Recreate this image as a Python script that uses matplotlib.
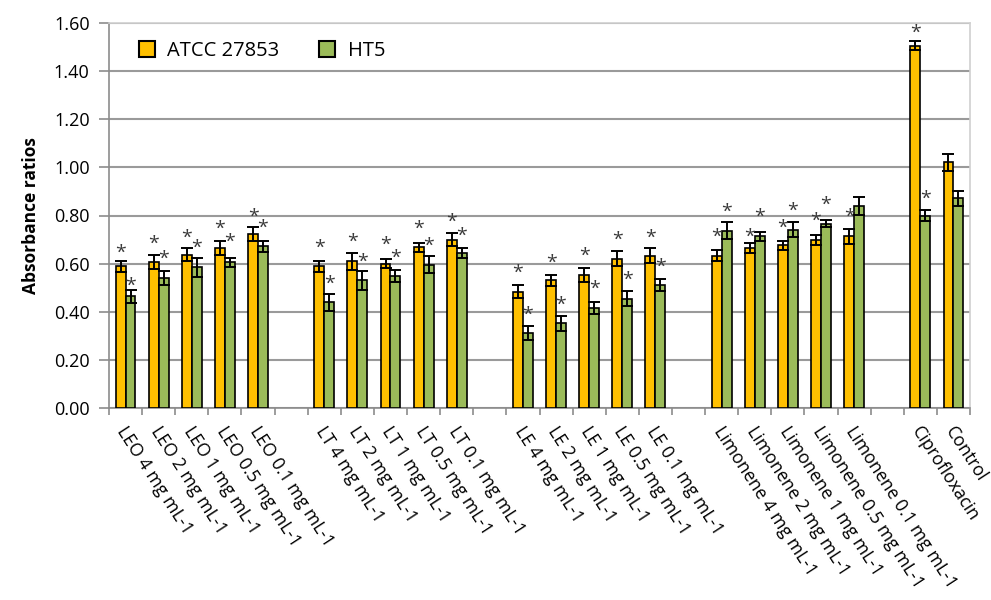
import numpy as np
import matplotlib
matplotlib.use("Agg")
import matplotlib.pyplot as plt
from matplotlib.patches import Patch
from matplotlib.transforms import ScaledTranslation

plt.rcParams['font.family'] = ['Open Sans', 'DejaVu Sans']

categories = ["LEO 4 mg mL-1", "LEO 2 mg mL-1", "LEO 1 mg mL-1", "LEO 0.5 mg mL-1", "LEO 0.1 mg mL-1", "",
              "LT 4 mg mL-1", "LT 2 mg mL-1", "LT 1 mg mL-1", "LT 0.5 mg mL-1", "LT 0.1 mg mL-1", "",
              "LE 4 mg mL-1", "LE 2 mg mL-1", "LE 1 mg mL-1", "LE 0.5 mg mL-1", "LE 0.1 mg mL-1", "",
              "Limonene 4 mg mL-1", "Limonene 2 mg mL-1", "Limonene 1 mg mL-1", "Limonene 0.5 mg mL-1",
              "Limonene 0.1 mg mL-1", "", "Ciprofloxacin", "Control"]
nan = np.nan
atcc = [0.589, 0.608, 0.637, 0.665, 0.723, nan,
        0.589, 0.609, 0.600, 0.668, 0.700, nan,
        0.483, 0.530, 0.551, 0.620, 0.633, nan,
        0.633, 0.665, 0.676, 0.698, 0.713, nan,
        1.506, 1.021]
atcc_err = [0.023, 0.029, 0.028, 0.030, 0.030, nan,
            0.023, 0.034, 0.020, 0.018, 0.027, nan,
            0.027, 0.023, 0.029, 0.031, 0.030, nan,
            0.022, 0.021, 0.019, 0.022, 0.032, nan,
            0.019, 0.036]
ht5 = [0.464, 0.540, 0.584, 0.605, 0.672, nan,
       0.440, 0.530, 0.550, 0.596, 0.644, nan,
       0.312, 0.353, 0.416, 0.454, 0.511, nan,
       0.737, 0.713, 0.740, 0.766, 0.840, nan,
       0.800, 0.871]
ht5_err = [0.026, 0.030, 0.038, 0.017, 0.023, nan,
           0.035, 0.039, 0.025, 0.034, 0.021, nan,
           0.028, 0.031, 0.026, 0.031, 0.025, nan,
           0.034, 0.020, 0.031, 0.014, 0.038, nan,
           0.021, 0.032]
# significance asterisk positions (centre height), None = no asterisk
atcc_sig = [0.679, 0.713, 0.741, 0.776, 0.828, None,
            0.700, 0.724, 0.711, 0.776, 0.808, None,
            0.596, 0.637, 0.665, 0.731, 0.741, None,
            0.744, 0.744, 0.783, 0.809, 0.827, None,
            1.593, None]
ht5_sig = [0.540, 0.651, 0.697, 0.724, 0.783, None,
           0.550, 0.641, 0.658, 0.706, 0.748, None,
           0.420, 0.461, 0.526, 0.564, 0.619, None,
           0.848, 0.827, 0.852, 0.877, None, None,
           0.903, None]
yticks = [0.0, 0.2, 0.4, 0.6, 0.8, 1.0, 1.2, 1.4, 1.6]
series_names = ["ATCC 27853", "HT5"]
colors = ["#FFC000", "#9BBB59"]

fig = plt.figure(figsize=(9.91, 6.0), dpi=100)
ax = fig.add_axes([109/991, 1-408/600, (970-109)/991, (408-23)/600])

x = np.arange(len(categories))
w = 0.30
for off, vals, errs, col in [(-w/2, atcc, atcc_err, colors[0]), (w/2, ht5, ht5_err, colors[1])]:
    ax.bar(x + off, vals, width=w, color=col, edgecolor="black", linewidth=1.2, zorder=3)
    ax.errorbar(x + off, vals, yerr=errs, fmt="none", ecolor="black", elinewidth=1.4,
                capsize=4, capthick=1.4, zorder=4)

fs_star = 14
for off, sig in [(-w/2, atcc_sig), (w/2, ht5_sig)]:
    for xi, s in zip(x, sig):
        if s is None:
            continue
        ax.annotate("*", (xi + off, s), xytext=(0, -0.66*fs_star), textcoords="offset points",
                    ha="center", va="baseline", fontsize=fs_star, color="#3A3A3A", zorder=5)

ax.set_xlim(-0.5, len(categories) - 0.5)
ax.set_ylim(0, 1.6)
ax.set_yticks(yticks)
ax.set_yticklabels([f"{v:.2f}" for v in yticks], fontsize=13)
ax.yaxis.grid(True, color="#9A9A9A", linewidth=1.5, zorder=0)
ax.set_axisbelow(True)

ax.set_xticks(x)
ax.set_xticks(np.arange(-0.5, len(categories)), minor=True)
ax.tick_params(axis="x", which="major", length=0, pad=11)
ax.tick_params(axis="x", which="minor", length=5, width=1.2, color="#8C8C8C", direction="out")
ax.tick_params(axis="y", length=7, width=1.2, color="#8C8C8C", direction="out", pad=7)
labels = ax.set_xticklabels(categories, rotation=-57, ha="left", va="top",
                            rotation_mode="anchor", fontsize=12.8)
for lab in labels:
    lab.set_transform(lab.get_transform() + ScaledTranslation(3/100, 0, fig.dpi_scale_trans))

for side in ["left", "bottom"]:
    ax.spines[side].set_color("#8C8C8C")
    ax.spines[side].set_linewidth(1.2)
for side in ["top", "right"]:
    ax.spines[side].set_color("#D0D0D0")
    ax.spines[side].set_linewidth(1.2)

ax.set_ylabel("Absorbance ratios", fontsize=12.5, fontweight="bold", labelpad=10)

handles = [Patch(facecolor=c, edgecolor="black", linewidth=1.5) for c in colors]
ax.legend(handles, series_names, loc="upper left", bbox_to_anchor=(0.018, 0.99), ncol=2,
          frameon=False, fontsize=14.5, handlelength=0.8, handleheight=0.8,
          handletextpad=0.6, columnspacing=2.0, borderpad=0.2)

fig.savefig("out.png", dpi=100)
